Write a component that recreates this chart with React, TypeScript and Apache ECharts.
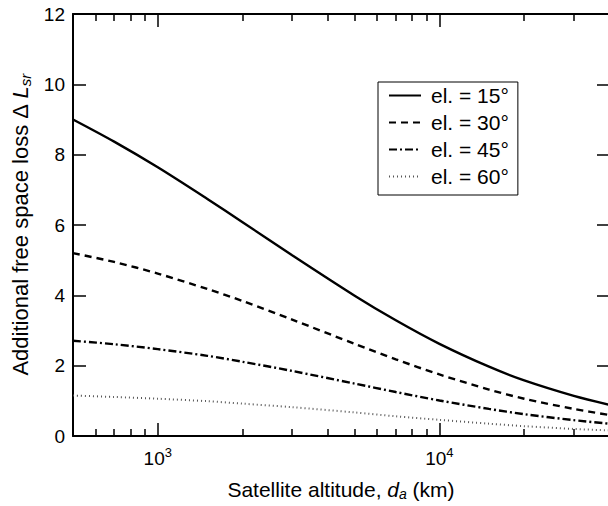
import React, { useEffect, useRef } from 'react';
import * as echarts from 'echarts';

// Satellite altitude (km)
const altitudes = [500, 700, 1000, 1500, 2000, 3000, 5000, 7000, 10000, 15000, 20000, 30000, 40000];
// Additional free space loss (dB) for each elevation angle
const el15 = [9.0, 8.37, 7.64, 6.74, 6.08, 5.14, 3.99, 3.29, 2.62, 1.97, 1.58, 1.14, 0.89];
const el30 = [5.2, 4.95, 4.62, 4.18, 3.84, 3.31, 2.62, 2.18, 1.75, 1.32, 1.06, 0.77, 0.6];
const el45 = [2.71, 2.61, 2.47, 2.28, 2.11, 1.85, 1.49, 1.25, 1.01, 0.77, 0.62, 0.45, 0.35];
const el60 = [1.15, 1.11, 1.06, 0.99, 0.92, 0.82, 0.67, 0.56, 0.46, 0.35, 0.28, 0.2, 0.16];
const seriesNames = ['el. = 15°', 'el. = 30°', 'el. = 45°', 'el. = 60°'];

const majorTicks = [1000, 10000];
const minorTicks = [600, 700, 800, 900, 2000, 3000, 4000, 5000, 6000, 7000, 8000, 9000, 20000, 30000];

const FONT = "'Liberation Sans', Arial, Helvetica, sans-serif";

export default function App() {
  const ref = useRef<HTMLDivElement>(null);
  useEffect(() => {
    const chart = echarts.init(ref.current!, null, { renderer: 'svg' });
    const pairs = (vals: number[]) => altitudes.map((a, i) => [a, vals[i]]);
    const xBase = (position: string, ticks: number[], len: number, showLine: boolean, showLabel: boolean) => ({
      type: 'log',
      logBase: 10,
      min: 500,
      max: 40000,
      position,
      splitLine: { show: false },
      axisLine: { show: showLine, onZero: false, lineStyle: { color: '#000', width: 2 } },
      axisTick: { show: true, inside: true, length: len, customValues: ticks, lineStyle: { color: '#000', width: 1.5 } },
      axisLabel: showLabel
        ? {
            show: true,
            customValues: majorTicks,
            margin: 10,
            color: '#000',
            fontFamily: FONT,
            fontSize: 19,
            formatter: (v: number) => `10{sup|${Math.round(Math.log10(v))}}`,
            rich: {
              sup: { fontSize: 13, color: '#000', fontFamily: FONT, padding: [0, 0, 12, 0] },
            },
          }
        : { show: false },
    });
    const lineSeries = (name: string, vals: number[], lineStyle: any) => ({
      name,
      type: 'line',
      xAxisIndex: 0,
      yAxisIndex: 0,
      data: pairs(vals),
      symbol: 'none',
      smooth: 0.3,
      itemStyle: { color: '#000', opacity: 0 },
      lineStyle,
    });
    const nameRich = (size: number) => ({
      i: { fontStyle: 'italic', fontSize: size, color: '#000', fontFamily: FONT },
      sub: { fontStyle: 'italic', fontSize: Math.round(size * 0.68), color: '#000', fontFamily: FONT, padding: [10, 0, 0, 0] },
    });
    chart.setOption({
      animation: false,
      backgroundColor: '#fff',
      textStyle: { fontFamily: FONT, color: '#000' },
      grid: { left: 73, top: 14, width: 536, height: 422, outerBoundsMode: 'none' },
      legend: {
        orient: 'vertical',
        left: 378,
        top: 82,
        selectedMode: false,
        backgroundColor: '#fff',
        borderColor: '#000',
        borderWidth: 1,
        borderRadius: 0,
        padding: [3, 9, 8, 10],
        itemWidth: 32,
        itemHeight: 14,
        itemGap: 6,
        itemStyle: { opacity: 0 },
        data: seriesNames,
        textStyle: { fontSize: 21, color: '#000', fontFamily: FONT, lineHeight: 20, padding: [0, 0, 0, 5] },
      },
      xAxis: [
        {
          ...xBase('bottom', majorTicks, 13, true, true),
          name: 'Satellite altitude, {i|d}{sub|a} (km)',
          nameLocation: 'middle',
          nameGap: 41,
          nameTextStyle: { fontSize: 21, color: '#000', fontFamily: FONT, rich: nameRich(21) },
        },
        xBase('bottom', minorTicks, 7, false, false),
        xBase('top', majorTicks, 13, true, false),
        xBase('top', minorTicks, 7, false, false),
      ],
      yAxis: [
        {
          type: 'value',
          position: 'left',
          min: 0,
          max: 12,
          interval: 2,
          splitLine: { show: false },
          axisLine: { show: true, onZero: false, lineStyle: { color: '#000', width: 2 } },
          axisTick: { show: true, inside: true, length: 13, lineStyle: { color: '#000', width: 1.5 } },
          axisLabel: { color: '#000', fontFamily: FONT, fontSize: 19, margin: 8 },
          name: 'Additional free space loss Δ {i|L}{sub|sr}',
          nameLocation: 'middle',
          nameGap: 36,
          nameTextStyle: { fontSize: 22, color: '#000', fontFamily: FONT, rich: nameRich(22) },
        },
        {
          type: 'value',
          position: 'right',
          min: 0,
          max: 12,
          interval: 2,
          splitLine: { show: false },
          axisLine: { show: true, onZero: false, lineStyle: { color: '#000', width: 2 } },
          axisTick: { show: true, inside: true, length: 12, lineStyle: { color: '#000', width: 1.5 } },
          axisLabel: { show: false },
        },
      ],
      series: [
        lineSeries(seriesNames[0], el15, { color: '#000', width: 2.4, type: 'solid' }),
        lineSeries(seriesNames[1], el30, { color: '#000', width: 2.4, type: [7, 5] }),
        lineSeries(seriesNames[2], el45, { color: '#000', width: 2.4, type: [8, 3, 2, 3] }),
        lineSeries(seriesNames[3], el60, { color: '#555', width: 2, type: [1, 3] }),
      ],
    });
    return () => chart.dispose();
  }, []);
  return (
    <div
      ref={ref}
      style={{ position: 'fixed', left: 0, top: 0, width: 608, height: 506, background: '#fff' }}
    />
  );
}
